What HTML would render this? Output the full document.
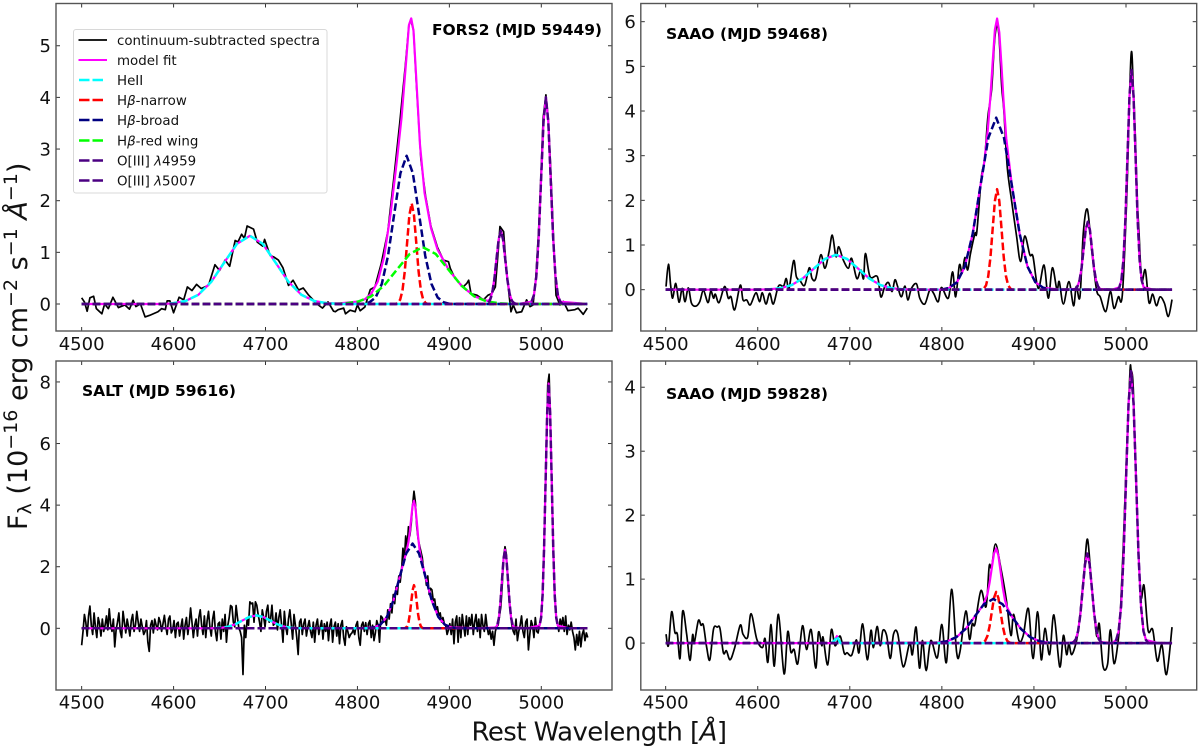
<!DOCTYPE html>
<html lang="en">
<head>
<meta charset="utf-8">
<title>Continuum-subtracted spectra with model fits</title>
<style>
  html, body { margin: 0; padding: 0; background: #fff; }
  svg { display: block; filter: blur(0.3px); }
  text { font-family: "DejaVu Sans", "Liberation Sans", sans-serif; fill: #111; white-space: pre; }
  .tick-label { font-size: 18px; }
  .panel-title { font-size: 15.2px; font-weight: bold; fill: #000; }
  .legend-text { font-size: 13.4px; }
  .axis-title { font-size: 26px; }
  .it { font-style: italic; }
</style>
</head>
<body>
<svg id="figure" xmlns="http://www.w3.org/2000/svg" width="1200" height="750" viewBox="0 0 1200 750">
  <rect x="0" y="0" width="1200" height="750" fill="#fff"/>
  <g id="panels"></g>

  <g>
    <rect x="73.5" y="29.5" width="253.5" height="163.5" rx="2.5" fill="#fff" fill-opacity="0.9" stroke="#d8d8d8" stroke-width="1"/>
    <g>
      <line x1="78.5" x2="107" y1="40" y2="40" stroke="#000" stroke-width="1.7"/>
      <text class="legend-text" x="117" y="45">continuum-subtracted spectra</text>
    </g>
    <g>
      <line x1="78.5" x2="107" y1="60" y2="60" stroke="#ff00ff" stroke-width="2"/>
      <text class="legend-text" x="117" y="65">model fit</text>
    </g>
    <g>
      <line x1="79" x2="103" y1="80" y2="80" stroke="#00ffff" stroke-width="2.4" stroke-dasharray="10.5,3"/>
      <text class="legend-text" x="117" y="85">HeII</text>
    </g>
    <g>
      <line x1="79" x2="103" y1="100" y2="100" stroke="#ff0000" stroke-width="2.4" stroke-dasharray="10.5,3"/>
      <text class="legend-text" x="117" y="105">H<tspan class="it">β</tspan>-narrow</text>
    </g>
    <g>
      <line x1="79" x2="103" y1="120" y2="120" stroke="#000080" stroke-width="2.4" stroke-dasharray="10.5,3"/>
      <text class="legend-text" x="117" y="125">H<tspan class="it">β</tspan>-broad</text>
    </g>
    <g>
      <line x1="79" x2="103" y1="140.5" y2="140.5" stroke="#00ff00" stroke-width="2.4" stroke-dasharray="10.5,3"/>
      <text class="legend-text" x="117" y="145.5">H<tspan class="it">β</tspan>-red wing</text>
    </g>
    <g>
      <line x1="79" x2="103" y1="160.5" y2="160.5" stroke="#4b0082" stroke-width="2.4" stroke-dasharray="10.5,3"/>
      <text class="legend-text" x="117" y="165.5">O[III] <tspan class="it">λ</tspan>4959</text>
    </g>
    <g>
      <line x1="79" x2="103" y1="180.5" y2="180.5" stroke="#4b0082" stroke-width="2.4" stroke-dasharray="10.5,3"/>
      <text class="legend-text" x="117" y="185.5">O[III] <tspan class="it">λ</tspan>5007</text>
    </g>
  </g>

  <text class="panel-title" x="432" y="35" textLength="170" lengthAdjust="spacingAndGlyphs">FORS2 (MJD 59449)</text>
  <text class="panel-title" x="666" y="39" textLength="162" lengthAdjust="spacingAndGlyphs">SAAO (MJD 59468)</text>
  <text class="panel-title" x="82" y="396" textLength="154" lengthAdjust="spacingAndGlyphs">SALT (MJD 59616)</text>
  <text class="panel-title" x="666" y="399" textLength="162" lengthAdjust="spacingAndGlyphs">SAAO (MJD 59828)</text>

  <text class="axis-title" x="471.5" y="740.5" textLength="255.5" lengthAdjust="spacing">Rest Wavelength [<tspan class="it">Å</tspan>]</text>
  <text class="axis-title" style="font-size:27px" transform="translate(27,530) rotate(-90)">F<tspan font-size="19" dy="4">λ</tspan><tspan dy="-4"> (10</tspan><tspan font-size="19" dy="-10">−16</tspan><tspan dy="10"> erg cm</tspan><tspan font-size="19" dy="-10">−2</tspan><tspan dy="10"> s</tspan><tspan font-size="19" dy="-10">−1</tspan><tspan dy="10"> </tspan><tspan class="it">Å</tspan><tspan font-size="19" dy="-10">−1</tspan><tspan dy="10">)</tspan></text>
</svg>

<script>
// ---- shared axis values ----
const xTicks = [4500, 4600, 4700, 4800, 4900, 5000];
const yTicksFors2 = [0, 1, 2, 3, 4, 5];
const yTicksSaao1 = [0, 1, 2, 3, 4, 5, 6];
const yTicksSalt = [0, 2, 4, 6, 8];
const yTicksSaao2 = [0, 1, 2, 3, 4];

// ---- FORS2 (MJD 59449) ----
const specWaveFors2 = [
  4500,4503,4506,4509,4513,4516,4522,4525,4529,4534,
  4540,4547,4552,4556,4559,4564,4569,4574,4583,4587,
  4591,4593,4596,4600,4606,4611,4615,4620,4625,4630,
  4638,4645,4650,4656,4661,4667,4670,4674,4677,4680,
  4687,4691,4697,4699,4705,4709,4714,4719,4725,4730,
  4736,4741,4747,4756,4762,4768,4774,4776,4779,4785,
  4787,4792,4797.5,4800,4803,4808,4814,4819,4826,4833,
  4840,4846,4852,4856,4858,4861,4864,4869,4874,4880,
  4887,4893.5,4899,4901,4906,4915,4919,4921,4923.5,4930,
  4937,4942,4946,4950,4953,4955,4959,4961,4964,4967,
  4969.5,4973,4978.6,4984,4987.7,4991,4994,4997,5000,5002,
  5005,5007.5,5010,5013,5016,5020.3,5024,5029,5036.6,5040,
  5045.6,5050];
const specFluxFors2 = [
  .12,.04,-.14,.12,.15,-.09,-.19,0,-.09,.13,
  -.07,-.02,-.1,.07,-.05,0,-.25,-.22,-.15,-.09,
  -.11,.06,.06,-.17,.13,.08,.33,.26,.38,.3,
  .36,.76,.65,.85,.73,1.23,1.2,1.35,1.27,1.51,
  1.45,1.2,1.12,1.25,.94,.91,.85,.7,.36,.46,
  .27,.31,.17,0,-.08,.04,-.14,-.15,-.11,-.08,
  -.19,-.12,-.15,-.02,-.13,-.06,.28,.33,.79,1.4,
  2.5,3.5,4.6,5.4,5.5,5.3,4.3,2.8,2.1,1.5,
  1.1,.85,.82,.69,.5,.33,.4,.46,.2,.17,
  .08,.17,.2,.33,1,1.5,1.4,.9,.33,-.15,
  -.02,-.17,-.15,.08,-.05,-.02,.5,1.4,2.64,3.6,
  4.05,3.6,2.7,1.4,.17,-.02,.05,-.13,-.11,-.08,
  -.2,-.08];
const modelWaveFors2 = [
  4500,4590,4599,4613,4627,4641,4655,4669,4683,4697,
  4711,4725,4739,4753,4767,4781,4801,4808,4815,4822,
  4829,4836,4843,4848,4853,4856,4858.5,4861,4864,4868,
  4873,4880,4887,4899,4913,4927,4941.6,4944,4946.4,4948.8,
  4951.2,4953.6,4956,4958.4,4960.8,4963.2,4965.6,4968,4970.4,4975,
  4989.4,4992,4994.6,4997.2,4999.8,5002.4,5005,5007.6,5010.2,5012.8,
  5015.4,5018,5020.6,5050];
const modelFluxFors2 = [
  0,0,.015,.058,.179,.429,.8,1.165,1.32,1.165,
  .8,.429,.179,.058,.015,.012,.05,.09,.2,.43,
  .91,1.74,2.79,3.61,4.71,5.4,5.53,5.29,4.36,3.09,
  2.15,1.47,1.06,.67,.357,.149,.06,.09,.21,.47,
  .87,1.25,1.42,1.25,.86,.46,.19,.062,.016,0,
  .044,.176,.54,1.3,2.43,3.53,4,3.53,2.43,1.3,
  .54,.176,.044,0];
const heWaveFors2 = [4500,4585,4599,4613,4627,4641,4655,4669,4683,4697,4711,4725,4739,4753,4767,4781,5050];
const heFluxFors2 = [0,0,.015,.058,.179,.429,.8,1.165,1.32,1.165,.8,.429,.179,.058,.015,0,0];
const narrowWaveFors2 = [4500,4841.5,4844,4846.5,4849,4851.5,4854,4856.5,4859,4861.5,4864,4866.5,4869,4871.5,4874,4876.5,5050];
const narrowFluxFors2 = [0,0,.02,.086,.264,.633,1.183,1.72,1.95,1.72,1.183,.633,.264,.086,.02,0,0];
const broadWaveFors2 = [4500,4806,4813,4819.75,4826.5,4833.25,4840,4846.75,4853.5,4860.25,4867,4873.75,4880.5,4887.25,4894,4901,5050];
const broadFluxFors2 = [0,0,.032,.126,.388,.932,1.741,2.533,2.87,2.533,1.741,.932,.388,.126,.032,0,0];
const wingWaveFors2 = [4500,4773,4787,4801,4815,4829,4843,4857,4871,4885,4899,4913,4927,4941,4955,4969,5050];
const wingFluxFors2 = [0,0,.012,.048,.149,.357,.667,.971,1.1,.971,.667,.357,.149,.048,.012,0,0];
const o4959WaveFors2 = [4500,4939,4941.6,4944,4946.4,4948.8,4951.2,4953.6,4956,4958.4,4960.8,4963.2,4965.6,4968,4970.4,4973,5050];
const o4959FluxFors2 = [0,0,.016,.062,.19,.46,.86,1.25,1.42,1.25,.86,.46,.19,.062,.016,0,0];
const o5007WaveFors2 = [4500,4986.8,4989.4,4992,4994.6,4997.2,4999.8,5002.4,5005,5007.6,5010.2,5012.8,5015.4,5018,5020.6,5023.2,5050];
const o5007FluxFors2 = [0,0,.044,.176,.54,1.3,2.43,3.53,4,3.53,2.43,1.3,.54,.176,.044,0,0];

// ---- SAAO (MJD 59468) ----
const specWaveSaao1 = [
  4500.4,4503,4505.4,4507.6,4511,4514.5,4518,4521,4524.6,4528,
  4532.6,4537,4541,4546,4549,4552,4554,4558,4564,4568,
  4571,4575,4581,4584,4588,4592,4598,4602,4605,4609,
  4613,4617,4622.5,4628,4631,4634,4639,4642,4646,4651,
  4656,4659,4663,4668.5,4673,4677.5,4681,4685,4688,4693,
  4698.5,4702,4707.6,4712,4715,4717,4722,4730,4733.7,4738,
  4742,4746,4749,4752,4756,4760,4763,4767,4772.5,4776,
  4781.5,4787,4791,4796,4799.6,4807,4811.6,4815,4819,4822,
  4825,4828,4831,4836,4838,4843,4846.4,4850,4854,4857,
  4859.4,4862,4865,4867.4,4871,4875.7,4881,4885.5,4890,4895.6,
  4899,4904.7,4911,4915.6,4920,4925,4927.5,4932,4938,4943,
  4946,4950,4953.6,4958,4962.7,4968,4972,4978,4983,4987,
  4991.7,4996,5000.7,5005.4,5008,5010,5012.3,5014,5017,5021,
  5025,5029,5033,5037,5041.7,5046,5050];
const specFluxSaao1 = [
  .07,.57,.1,-.19,.14,-.28,.03,-.27,.04,-.3,
  -.37,-.27,-.02,-.29,-.03,-.19,-.1,-.29,.07,-.19,
  -.16,-.45,.1,-.23,-.23,-.34,-.07,-.27,-.07,-.32,
  -.08,-.32,.08,.08,.25,.03,.65,.29,.2,.1,
  .49,.25,.25,.78,.48,.85,1.22,.74,.96,.66,
  .48,.7,.25,.44,.25,.81,.29,.29,-.16,.07,
  .16,-.04,.22,.07,-.16,.08,-.23,.03,.13,-.19,
  -.32,0,-.08,-.27,.05,-.19,.4,-.16,.55,.37,
  .72,.44,.8,1.26,1.3,2.53,2.9,3.87,4.47,5.5,
  5.89,5.7,4.55,4,2.75,2,1.22,.63,1.2,.78,
  .74,.03,.55,-.19,.49,0,.18,-.32,.18,-.36,
  .07,-.16,1.26,1.8,.9,0,-.16,-.49,-.04,-.42,
  -.16,-.12,2,5.22,4.5,3.5,2,1.34,.22,.44,
  -.29,-.1,-.36,-.16,-.3,-.6,-.22];
const modelWaveSaao1 = [
  4500,4600,4613,4625,4637,4649,4661,4673,4685,4697,
  4709,4721,4733,4745,4757,4770,4800,4808,4816.5,4825,
  4833.5,4842,4846,4850,4853,4855.2,4857.6,4860,4862.4,4864.8,
  4867,4870,4876,4884.5,4893,4901.5,4910,4930,4945,4947.2,
  4949.5,4951.8,4954,4956.2,4958.5,4960.8,4963,4965.2,4967.5,4969.8,
  4972,4985,4992.8,4995,4997.2,4999.4,5001.6,5003.8,5006,5008.2,
  5010.4,5012.6,5014.8,5017,5019.2,5030,5050];
const modelFluxSaao1 = [
  0,0,.009,.034,.105,.253,.473,.688,.78,.688,
  .473,.253,.105,.034,.009,0,0,.04,.17,.52,
  1.25,2.34,2.85,3.6,4.4,5.1,5.82,6.07,5.76,5,
  4.23,3.38,2.34,1.25,.52,.17,.04,0,.017,.066,
  .205,.49,.92,1.34,1.52,1.34,.92,.49,.205,.066,
  .017,0,.054,.215,.66,1.6,2.98,4.34,4.92,4.34,
  2.98,1.6,.66,.215,.054,0,0];
const heWaveSaao1 = [4500,4601,4613,4625,4637,4649,4661,4673,4685,4697,4709,4721,4733,4745,4757,4769,5050];
const heFluxSaao1 = [0,0,.009,.034,.105,.253,.473,.688,.78,.688,.473,.253,.105,.034,.009,0,0];
const narrowWaveSaao1 = [4500,4843.2,4845.6,4848,4850.4,4852.8,4855.2,4857.6,4860,4862.4,4864.8,4867.2,4869.6,4872,4874.4,4876.8,5050];
const narrowFluxSaao1 = [0,0,.025,.099,.304,.73,1.365,1.986,2.25,1.986,1.365,.73,.304,.099,.025,0,0];
const broadWaveSaao1 = [4500,4799.5,4808,4816.5,4825,4833.5,4842,4850.5,4859,4867.5,4876,4884.5,4893,4901.5,4910,4918.5,5050];
const broadFluxSaao1 = [0,0,.043,.169,.52,1.25,2.335,3.4,3.85,3.4,2.335,1.25,.52,.169,.043,0,0];
const o4959WaveSaao1 = [4500,4943,4945,4947.2,4949.5,4951.8,4954,4956.2,4958.5,4960.8,4963,4965.2,4967.5,4969.8,4972,4974,5050];
const o4959FluxSaao1 = [0,0,.017,.066,.205,.49,.92,1.34,1.52,1.34,.92,.49,.205,.066,.017,0,0];
const o5007WaveSaao1 = [4500,4990.6,4992.8,4995,4997.2,4999.4,5001.6,5003.8,5006,5008.2,5010.4,5012.6,5014.8,5017,5019.2,5021.4,5050];
const o5007FluxSaao1 = [0,0,.054,.215,.66,1.6,2.98,4.34,4.92,4.34,2.98,1.6,.66,.215,.054,0,0];

// ---- SALT (MJD 59616): regular 1.5 A sampling from 4500 A ----
const specStartSalt = 4500;
const specStepSalt = 1.5;
const specFluxSalt = [
  -.55,-.1,.45,.2,-.25,.4,.72,.1,-.2,.5,.05,-.3,.35,.15,-.25,.3,-.1,.1,.4,-.05,
  .63,.15,-.1,.3,-.6,-.05,.2,.5,-.1,-.3,.55,.2,-.15,.3,.05,-.25,.25,.45,-.1,.1,
  .55,.2,-.1,.3,.05,-.2,-.1,.25,-.45,-.75,.1,.25,-.15,.3,.1,-.05,.35,.2,-.1,.15,
  .42,.05,-.2,.3,.4,-.15,-.05,.25,-.3,.15,.2,-.25,.05,.3,-.35,.1,.35,-.2,.15,.66,
  .2,-.3,.1,.3,-.25,.35,.6,.1,-.2,.4,-.3,.25,.55,.05,-.25,.3,.55,-.1,-.4,.15,
  .2,-.35,.3,-.1,.45,-.45,.1,.35,.74,.7,.2,.05,.74,.35,0,-.1,-.3,-1.5,.1,-.3,
  .3,.1,.86,.8,.82,.2,.86,.75,.45,.2,-.1,.6,.35,.05,.55,.75,.2,.3,.75,.1,
  .15,.5,-.05,.35,.6,.1,-.45,.55,.05,-.2,.3,.6,.15,-.35,.45,.1,-.3,-.85,.2,.3,
  -.2,.15,.3,-.25,.05,.25,-.1,-.3,.2,-.45,.1,.3,-.2,.05,.25,-.35,.15,-.1,.2,-.4,
  .1,.3,-.45,.05,.2,-.25,.15,-.5,.1,.25,-.3,-.55,.05,-.1,-.3,-.2,-.15,-.05,-.2,.1,
  .22,-.3,-.55,.1,.2,-.1,.18,-.2,.15,.25,-.3,.1,-.4,-.15,.25,.1,-.45,.4,.35,.2,
  .3,.1,.6,.3,.8,.5,1.1,.8,1.35,1.1,1.7,1.5,1.9,2.6,2.2,3,2.6,3.3,3,3.4,
  4,4.45,4.1,3.3,2.9,2.7,2.5,2.3,1.9,1.8,1.4,1.7,1.1,1.3,1.25,.9,.95,.6,.7,.4,
  .5,.2,.35,.15,.1,-.2,-.05,.15,-.2,.3,-.5,.2,.4,-.45,.35,-.3,.45,.1,-.25,.4,
  -.2,.35,.1,.45,-.2,.2,.45,-.1,.3,-.3,.45,.1,-.1,.45,.05,-.2,-.05,-.35,-.1,-.55,
  -.1,.05,.1,.4,.7,1.4,2.3,2.65,2.4,1.6,.9,.5,.1,-.1,-.2,.3,-.4,-.1,.1,.4,
  -.1,-.3,.2,.3,-.7,-.2,.25,.1,-.3,.35,-.1,-.15,.1,.35,.9,2.1,3.9,6,7.9,8.25,
  6.6,4.6,2.6,1.1,.45,.2,-.1,.3,.1,.35,-.1,.4,-.2,.1,-.05,.2,-.1,-.3,-.7,-.2,
  -.55,-.1,-.6,-.2,-.05,-.4,-.15,-.3];
const modelWaveSalt = [
  4500,4640,4645,4652.5,4660,4667.5,4675,4682.5,4690,4697.5,
  4705,4712.5,4720,4727.5,4735,4800,4818,4825,4832,4839,
  4846,4850,4853,4855.5,4857,4858.5,4860,4861.5,4863,4864.5,
  4866,4867.5,4869,4874,4881,4888,4895,4902,4930,4950.6,
  4952.2,4953.9,4955.5,4957.2,4958.9,4960.5,4962.1,4963.8,4965.5,4967.1,
  4968.8,4970.4,4985,4998.1,4999.8,5001.4,5003,5004.7,5006.4,5008,
  5009.6,5011.3,5013,5014.6,5016.2,5017.9,5030,5050];
const modelFluxSalt = [
  0,0,.005,.018,.057,.136,.255,.37,.42,.37,
  .255,.136,.057,.018,.005,0,.03,.12,.37,.89,
  1.67,2.13,2.45,2.8,3.14,3.58,3.99,4.14,3.94,3.49,
  2.97,2.57,2.3,1.67,.89,.37,.12,.03,0,.028,
  .11,.345,.83,1.55,2.25,2.55,2.25,1.55,.83,.345,
  .11,.028,0,.088,.35,1.08,2.58,4.82,7,7.95,
  7,4.82,2.58,1.08,.35,.088,0,0];
const heWaveSalt = [4500,4637.5,4645,4652.5,4660,4667.5,4675,4682.5,4690,4697.5,4705,4712.5,4720,4727.5,4735,4742.5,5050];
const heFluxSalt = [0,0,.005,.018,.057,.136,.255,.37,.42,.37,.255,.136,.057,.018,.005,0,0];
const narrowWaveSalt = [4500,4851,4852.5,4854,4855.5,4857,4858.5,4860,4861.5,4863,4864.5,4866,4867.5,4869,4870.5,4872,5050];
const narrowFluxSalt = [0,0,.016,.061,.19,.455,.85,1.235,1.4,1.235,.85,.455,.19,.061,.016,0,0];
const broadWaveSalt = [4500,4811,4818,4825,4832,4839,4846,4853,4860,4867,4874,4881,4888,4895,4902,4909,5050];
const broadFluxSalt = [0,0,.03,.12,.37,.89,1.67,2.43,2.75,2.43,1.67,.89,.37,.12,.03,0,0];
const o4959WaveSalt = [4500,4949,4950.6,4952.2,4953.9,4955.5,4957.2,4958.9,4960.5,4962.1,4963.8,4965.5,4967.1,4968.8,4970.4,4972,5050];
const o4959FluxSalt = [0,0,.028,.11,.345,.83,1.55,2.25,2.55,2.25,1.55,.83,.345,.11,.028,0,0];
const o5007WaveSalt = [4500,4996.5,4998.1,4999.8,5001.4,5003,5004.7,5006.4,5008,5009.6,5011.3,5013,5014.6,5016.2,5017.9,5019.5,5050];
const o5007FluxSalt = [0,0,.088,.35,1.08,2.58,4.82,7,7.95,7,4.82,2.58,1.08,.35,.088,0,0];

// ---- SAAO (MJD 59828) ----
const specWaveSaao2 = [
  4500.4,4503,4506.5,4510,4512.7,4515.6,4518.5,4522.8,4526.4,4529.3,
  4531,4535.5,4538.4,4541,4544.6,4548,4552,4556,4559,4562.7,
  4566,4570,4575,4581,4584,4589,4592.8,4599,4605,4608,
  4611,4614.5,4618,4622.5,4628.6,4632.6,4636,4639.5,4643.5,4648.6,
  4653,4658,4663,4666,4669.6,4671,4676,4680,4684,4689.5,
  4694,4697,4702,4707,4710,4714,4719,4723,4725.7,4729.7,
  4733,4736,4740,4744,4747.5,4752,4758,4765,4768,4772,
  4775.7,4779,4783,4788,4795,4800,4805,4810.5,4816,4819.6,
  4826,4830,4833,4836,4842.4,4848,4851.4,4854,4858.3,4864,
  4870,4875,4878,4883.7,4888.4,4894,4899,4904,4908,4912,
  4917,4921.7,4928,4932,4935.5,4938,4941,4946,4949,4952,
  4955,4958.3,4962.7,4968,4971,4975,4980,4983,4987,4991.7,
  4994,4997,5001,5004.3,5005.5,5008,5012,5016,5019.6,5024,
  5029,5034,5039,5044,5050];
const specFluxSaao2 = [
  .14,-.04,.49,.17,.14,-.24,.5,.14,-.27,.13,
  0,.35,.28,.28,-.07,-.26,.22,.25,.23,-.15,
  -.12,-.26,-.07,.28,.14,.09,.46,.06,-.07,.07,
  -.3,.29,-.36,.45,-.48,.18,-.14,-.1,-.32,.27,
  -.1,.21,-.39,.17,-.04,.09,-.34,.21,-.04,.11,
  -.16,-.15,-.19,.05,-.15,.3,-.26,.2,-.07,.26,
  -.04,.2,.12,-.24,.14,.15,-.37,0,-.18,.25,
  -.39,.04,-.43,.04,-.23,.29,-.3,.84,-.14,-.14,
  .5,.06,.3,.3,.82,.57,1.2,1.18,1.55,1.18,
  .68,.12,.45,.04,.12,.54,-.24,.49,-.26,.23,
  -.18,.44,-.37,.12,-.18,-.01,-.18,.02,.3,.75,
  1.2,1.62,.9,.12,.3,-.36,-.33,.21,-.32,.06,
  .5,1.5,3.1,4.24,4.27,3.95,2.1,.75,.9,.2,
  .21,-.28,-.03,-.49,.25];
const modelWaveSaao2 = [
  4500,4680,4684,4686,4688,4690,4700,4796,4806,4816,
  4826,4836,4845,4847,4849.4,4851.8,4854.2,4856.6,4859,4861.4,
  4863.8,4866.2,4868.6,4871,4875.8,4885.8,4896,4906,4916,4935,
  4943,4945.5,4948,4950.5,4953,4955.5,4958,4960.5,4963,4965.5,
  4968,4970.5,4973,4985,4989.3,4992,4994.7,4997.4,5000.1,5002.8,
  5005.5,5008.2,5010.9,5013.6,5016.3,5019,5021.7,5035,5050];
const modelFluxSaao2 = [
  0,0,.05,.11,.05,0,0,.01,.03,.095,
  .224,.42,.6,.67,.76,.94,1.17,1.4,1.48,1.37,
  1.12,.865,.67,.555,.42,.224,.094,.03,.008,0,
  .015,.06,.19,.455,.85,1.235,1.4,1.235,.85,.455,
  .19,.06,.015,0,.047,.187,.576,1.38,2.58,3.75,
  4.25,3.75,2.58,1.38,.576,.187,.047,0,0];
const heWaveSaao2 = [4500,4680,4684,4686,4688,4690,5050];
const heFluxSaao2 = [0,0,.05,.11,.05,0,0];
const narrowWaveSaao2 = [4500,4842.2,4844.6,4847,4849.4,4851.8,4854.2,4856.6,4859,4861.4,4863.8,4866.2,4868.6,4871,4873.4,4875.8,5050];
const narrowFluxSaao2 = [0,0,.009,.035,.108,.26,.485,.706,.8,.706,.485,.26,.108,.035,.009,0,0];
const broadWaveSaao2 = [4500,4785.8,4795.8,4805.8,4815.8,4825.8,4835.8,4845.8,4855.8,4865.8,4875.8,4885.8,4895.8,4905.8,4915.8,4925.8,5050];
const broadFluxSaao2 = [0,0,.008,.03,.094,.224,.419,.609,.69,.609,.419,.224,.094,.03,.008,0,0];
const o4959WaveSaao2 = [4500,4940.5,4943,4945.5,4948,4950.5,4953,4955.5,4958,4960.5,4963,4965.5,4968,4970.5,4973,4975.5,5050];
const o4959FluxSaao2 = [0,0,.015,.06,.19,.455,.85,1.235,1.4,1.235,.85,.455,.19,.06,.015,0,0];
const o5007WaveSaao2 = [4500,4986.6,4989.3,4992,4994.7,4997.4,5000.1,5002.8,5005.5,5008.2,5010.9,5013.6,5016.3,5019,5021.7,5024.4,5050];
const o5007FluxSaao2 = [0,0,.047,.187,.576,1.38,2.58,3.75,4.25,3.75,2.58,1.38,.576,.187,.047,0,0];

// ---- rendering ----
const SVG_NS = 'http://www.w3.org/2000/svg';
const DASH = '7.6,3.4';
const W_SPEC = 1.7;
const W_MODEL = 2.2;
const W_COMP = 2.5;

const specWaveSalt = specFluxSalt.map(function (_, i) { return specStartSalt + i * specStepSalt; });

const panelLayouts = [
  { key: 'fors2', box: [56, 3.5, 612, 331], xDomain: [4472.1, 5076.9], yDomain: [-0.523, 5.818], yTicks: yTicksFors2, labelAt: 350, smoothSpec: false,
    curves: [
      ['spectrum', specWaveFors2, specFluxFors2, '#000000', W_SPEC, null],
      ['model-fit', modelWaveFors2, modelFluxFors2, '#ff00ff', W_MODEL, null],
      ['heii', heWaveFors2, heFluxFors2, '#00ffff', W_COMP, DASH],
      ['hbeta-narrow', narrowWaveFors2, narrowFluxFors2, '#ff0000', W_COMP, DASH],
      ['hbeta-broad', broadWaveFors2, broadFluxFors2, '#000080', W_COMP, DASH],
      ['hbeta-red-wing', wingWaveFors2, wingFluxFors2, '#00ff00', W_COMP, DASH],
      ['oiii-4959', o4959WaveFors2, o4959FluxFors2, '#4b0082', W_COMP, DASH],
      ['oiii-5007', o5007WaveFors2, o5007FluxFors2, '#4b0082', W_COMP, DASH]
    ] },
  { key: 'saao-59468', box: [640.8, 3.5, 1196.7, 331], xDomain: [4473, 5076.8], yDomain: [-0.925, 6.407], yTicks: yTicksSaao1, labelAt: 350, smoothSpec: true,
    curves: [
      ['spectrum', specWaveSaao1, specFluxSaao1, '#000000', W_SPEC, null],
      ['model-fit', modelWaveSaao1, modelFluxSaao1, '#ff00ff', W_MODEL, null],
      ['heii', heWaveSaao1, heFluxSaao1, '#00ffff', W_COMP, DASH],
      ['hbeta-narrow', narrowWaveSaao1, narrowFluxSaao1, '#ff0000', W_COMP, DASH],
      ['hbeta-broad', broadWaveSaao1, broadFluxSaao1, '#000080', W_COMP, DASH],
      ['oiii-4959', o4959WaveSaao1, o4959FluxSaao1, '#4b0082', W_COMP, DASH],
      ['oiii-5007', o5007WaveSaao1, o5007FluxSaao1, '#4b0082', W_COMP, DASH]
    ] },
  { key: 'salt', box: [56, 361, 612, 690], xDomain: [4472.1, 5076.9], yDomain: [-2.003, 8.68], yTicks: yTicksSalt, labelAt: 708.5, smoothSpec: false,
    curves: [
      ['spectrum', specWaveSalt, specFluxSalt, '#000000', W_SPEC, null],
      ['model-fit', modelWaveSalt, modelFluxSalt, '#ff00ff', W_MODEL, null],
      ['heii', heWaveSalt, heFluxSalt, '#00ffff', W_COMP, DASH],
      ['hbeta-narrow', narrowWaveSalt, narrowFluxSalt, '#ff0000', W_COMP, DASH],
      ['hbeta-broad', broadWaveSalt, broadFluxSalt, '#000080', W_COMP, DASH],
      ['oiii-4959', o4959WaveSalt, o4959FluxSalt, '#4b0082', W_COMP, DASH],
      ['oiii-5007', o5007WaveSalt, o5007FluxSalt, '#4b0082', W_COMP, DASH]
    ] },
  { key: 'saao-59828', box: [640.8, 361, 1196.7, 690], xDomain: [4473, 5076.8], yDomain: [-0.733, 4.41], yTicks: yTicksSaao2, labelAt: 708.5, smoothSpec: true,
    curves: [
      ['spectrum', specWaveSaao2, specFluxSaao2, '#000000', W_SPEC, null],
      ['model-fit', modelWaveSaao2, modelFluxSaao2, '#ff00ff', W_MODEL, null],
      ['heii', heWaveSaao2, heFluxSaao2, '#00ffff', W_COMP, DASH],
      ['hbeta-narrow', narrowWaveSaao2, narrowFluxSaao2, '#ff0000', W_COMP, DASH],
      ['hbeta-broad', broadWaveSaao2, broadFluxSaao2, '#000080', W_COMP, DASH],
      ['oiii-4959', o4959WaveSaao2, o4959FluxSaao2, '#4b0082', W_COMP, DASH],
      ['oiii-5007', o5007WaveSaao2, o5007FluxSaao2, '#4b0082', W_COMP, DASH]
    ] }
];

function makeScale(domain, r0, r1) {
  return function (v) { return r0 + (v - domain[0]) / (domain[1] - domain[0]) * (r1 - r0); };
}

function pathFromPoints(pts, smooth) {
  let d = 'M' + pts[0][0].toFixed(2) + ' ' + pts[0][1].toFixed(2);
  for (let i = 1; i < pts.length; i++) {
    if (!smooth) {
      d += 'L' + pts[i][0].toFixed(2) + ' ' + pts[i][1].toFixed(2);
      continue;
    }
    const p0 = pts[Math.max(i - 2, 0)];
    const p1 = pts[i - 1];
    const p2 = pts[i];
    const p3 = pts[Math.min(i + 1, pts.length - 1)];
    const c1x = p1[0] + (p2[0] - p0[0]) / 6;
    const c1y = p1[1] + (p2[1] - p0[1]) / 6;
    const c2x = p2[0] - (p3[0] - p1[0]) / 6;
    const c2y = p2[1] - (p3[1] - p1[1]) / 6;
    d += 'C' + c1x.toFixed(2) + ' ' + c1y.toFixed(2) + ' ' + c2x.toFixed(2) + ' ' + c2y.toFixed(2) + ' ' + p2[0].toFixed(2) + ' ' + p2[1].toFixed(2);
  }
  return d;
}

function tickLine(parent, x1, y1, x2, y2) {
  const el = document.createElementNS(SVG_NS, 'line');
  
  
  el.setAttribute('x1', x1);
  el.setAttribute('y1', y1);
  el.setAttribute('x2', x2);
  el.setAttribute('y2', y2);
  el.setAttribute('stroke', '#333');
  el.setAttribute('stroke-width', '1');
  parent.appendChild(el);
}

function tickLabel(parent, x, y, anchor, value) {
  const el = document.createElementNS(SVG_NS, 'text');
  
  
  el.setAttribute('class', 'tick-label');
  el.setAttribute('x', x);
  el.setAttribute('y', y);
  el.setAttribute('text-anchor', anchor);
  el.textContent = String(value);
  parent.appendChild(el);
}

function drawPanel(layout) {
  const left = layout.box[0], top = layout.box[1], right = layout.box[2], bottom = layout.box[3];
  const sx = makeScale(layout.xDomain, left, right);
  const sy = makeScale(layout.yDomain, bottom, top);

  const group = document.createElementNS(SVG_NS, 'g');
  
  

  layout.curves.forEach(function (c, idx) {
    const line = document.createElementNS(SVG_NS, 'path');
    
    
    const n = Math.min(c[1].length, c[2].length);
    const pts = [];
    for (let i = 0; i < n; i++) {
      pts.push([sx(c[1][i]), sy(c[2][i])]);
    }
    line.setAttribute('d', pathFromPoints(pts, idx === 0 && layout.smoothSpec));
    line.setAttribute('fill', 'none');
    line.setAttribute('stroke', c[3]);
    line.setAttribute('stroke-width', c[4]);
    line.setAttribute('stroke-linejoin', 'round');
    if (c[5]) { line.setAttribute('stroke-dasharray', c[5]); }
    group.appendChild(line);
  });

  xTicks.forEach(function (t) {
    const x = sx(t);
    tickLine(group, x, bottom, x, bottom - 4);
    tickLine(group, x, top, x, top + 4);
    tickLabel(group, x, layout.labelAt, 'middle', t);
  });
  layout.yTicks.forEach(function (t) {
    const y = sy(t);
    tickLine(group, left, y, left + 4, y);
    tickLine(group, right, y, right - 4, y);
    tickLabel(group, left - 5, y + 6.5, 'end', t);
  });

  const frame = document.createElementNS(SVG_NS, 'rect');
  
  
  frame.setAttribute('x', left);
  frame.setAttribute('y', top);
  frame.setAttribute('width', right - left);
  frame.setAttribute('height', bottom - top);
  frame.setAttribute('fill', 'none');
  frame.setAttribute('stroke', '#555');
  frame.setAttribute('stroke-width', '1.4');
  group.appendChild(frame);

  document.getElementById('panels').appendChild(group);
}

panelLayouts.forEach(drawPanel);
</script>
</body>
</html>
